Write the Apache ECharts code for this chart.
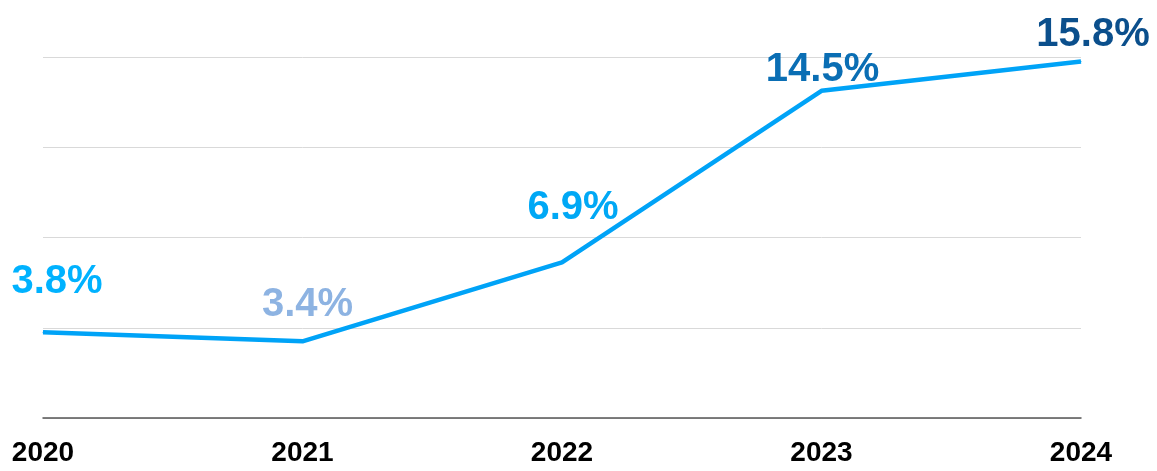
<!DOCTYPE html>
<html>
<head>
<meta charset="utf-8">
<script src="https://cdn.jsdelivr.net/npm/echarts@6/dist/echarts.min.js"></script>
<style>
  html, body { margin: 0; padding: 0; background: #fff; }
  #chart { width: 1157px; height: 471px; }
</style>
</head>
<body>
<div id="chart"></div>
<script>
  // 年份 + 数值
  const years = ['2020', '2021', '2022', '2023', '2024'];
  const values = [3.8, 3.4, 6.9, 14.5, 15.8];
  const labelColors = ['#00b2ff', '#8db3e2', '#00a8f5', '#0a6eb4', '#0b4f8c'];
  const labelOffsets = [[14, -50], [5, -36], [11, -54], [1, -21], [12, -27]];

  const chart = echarts.init(document.getElementById('chart'));
  const seriesData = values.map(function (v, i) {
    return {
      value: v,
      label: { color: labelColors[i], offset: labelOffsets[i] }
    };
  });

  const option = {
    backgroundColor: '#fff',
    animation: false,
    grid: { left: 43, right: 76, top: 57, bottom: 53 },
    xAxis: {
      type: 'category',
      data: years,
      boundaryGap: false,
      axisTick: { show: false },
      axisLine: { lineStyle: { color: '#555', width: 1.5 } },
      axisLabel: {
        color: '#000',
        fontSize: 28,
        fontWeight: 'bold',
        fontFamily: 'Liberation Sans, Arial, sans-serif',
        margin: 21
      }
    },
    yAxis: {
      type: 'value',
      min: 0,
      max: 16,
      interval: 4,
      axisLabel: { show: false },
      axisLine: { show: false },
      axisTick: { show: false },
      splitLine: { lineStyle: { color: '#d9d9d9', width: 1 } }
    },
    series: [{
      type: 'line',
      data: seriesData,
      symbol: 'circle',
      symbolSize: 1,
      showSymbol: true,
      lineStyle: { color: '#00a3f7', width: 4.5 },
      itemStyle: { color: '#00a3f7' },
      label: {
        show: true,
        position: 'inside',
        formatter: '{c}%',
        fontSize: 40,
        fontWeight: 'bold',
        fontFamily: 'Liberation Sans, Arial, sans-serif'
      }
    }]
  };
  chart.setOption(option);
</script>
</body>
</html>
